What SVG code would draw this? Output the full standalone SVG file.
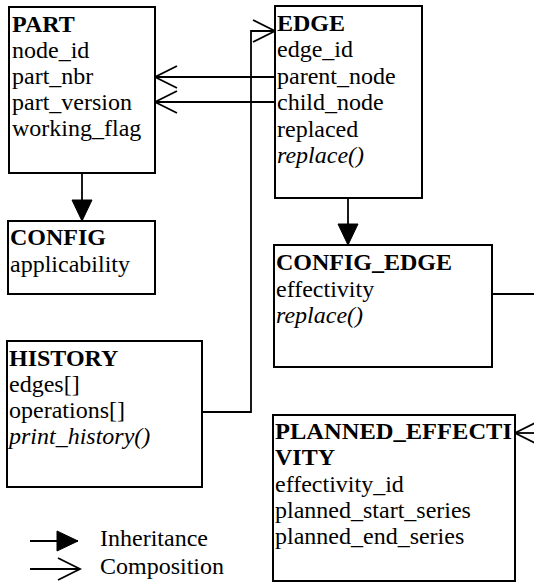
<svg xmlns="http://www.w3.org/2000/svg" width="534" height="582" viewBox="0 0 534 582">
<defs>
<style>
.box{fill:#fff;stroke:#000;stroke-width:2}
.t{font-family:'Liberation Serif','Times New Roman','DejaVu Serif',serif;font-size:24px;fill:#000}
.b{font-weight:bold}
.i{font-style:italic}
.c{fill:none;stroke:#000;stroke-width:1.8}
</style>
<marker id="open" markerUnits="userSpaceOnUse" markerWidth="30" markerHeight="30" refX="0" refY="0" orient="auto" overflow="visible">
<path d="M-22,-11 L0,0 L-22,11" fill="none" stroke="#000" stroke-width="1.8"/>
</marker>
<marker id="tri" markerUnits="userSpaceOnUse" markerWidth="30" markerHeight="30" refX="0" refY="0" orient="auto" overflow="visible">
<path d="M-21,-10 L0,0 L-21,10 Z" fill="#000" stroke="#000" stroke-width="1"/>
</marker>
</defs>
<rect width="534" height="582" fill="#fff"/>
<g id="connectors">
<path class="c" d="M276,77 L155,77" marker-end="url(#open)"/>
<path class="c" d="M276,102 L155,102" marker-end="url(#open)"/>
<path class="c" d="M202,412 L251,412 L251,31 L275,31" marker-end="url(#open)"/>
<path class="c" d="M82,174 L82,221" marker-end="url(#tri)"/>
<path class="c" d="M348,198 L348,245" marker-end="url(#tri)"/>
<path class="c" d="M492,294 L534,294"/>
<path class="c" d="M540,433 L515,433" marker-end="url(#open)"/>
</g>
<g id="PART" font-family="Liberation Serif, serif">
<rect class="box" x="9" y="7" width="146" height="166"/>
<text class="t b" x="12" y="32">PART</text>
<text class="t" x="12" y="58">node_id</text>
<text class="t" x="12" y="84">part_nbr</text>
<text class="t" x="12" y="110">part_version</text>
<text class="t" x="12" y="136">working_flag</text>
</g>
<g id="EDGE">
<rect class="box" x="275" y="6" width="147" height="192"/>
<text class="t b" x="277" y="31">EDGE</text>
<text class="t" x="277" y="57">edge_id</text>
<text class="t" x="277" y="84">parent_node</text>
<text class="t" x="277" y="110">child_node</text>
<text class="t" x="277" y="137">replaced</text>
<text class="t i" x="277" y="163">replace()</text>
</g>
<g id="CONFIG">
<rect class="box" x="8" y="221" width="147" height="73"/>
<text class="t b" x="10" y="245">CONFIG</text>
<text class="t" x="10" y="272">applicability</text>
</g>
<g id="HISTORY">
<rect class="box" x="7" y="341" width="195" height="146"/>
<text class="t b" x="9" y="366">HISTORY</text>
<text class="t" x="9" y="392">edges[]</text>
<text class="t" x="9" y="418">operations[]</text>
<text class="t i" x="9" y="444">print_history()</text>
</g>
<g id="CONFIG_EDGE">
<rect class="box" x="274" y="245" width="218" height="122"/>
<text class="t b" x="276" y="270">CONFIG_EDGE</text>
<text class="t" x="276" y="297">effectivity</text>
<text class="t i" x="276" y="323">replace()</text>
</g>
<g id="PLANNED_EFFECTIVITY">
<rect class="box" x="273" y="415" width="242" height="166"/>
<text class="t b" x="275" y="439" textLength="237" lengthAdjust="spacingAndGlyphs">PLANNED_EFFECTI</text>
<text class="t b" x="275" y="465">VITY</text>
<text class="t" x="275" y="492">effectivity_id</text>
<text class="t" x="275" y="518">planned_start_series</text>
<text class="t" x="275" y="544">planned_end_series</text>
</g>
<g id="legend">
<path class="c" d="M30,541 L78,541" marker-end="url(#tri)"/>
<path class="c" d="M30,569 L80,569" marker-end="url(#open)"/>
<text class="t" x="100" y="546">Inheritance</text>
<text class="t" x="100" y="574">Composition</text>
</g>
</svg>
